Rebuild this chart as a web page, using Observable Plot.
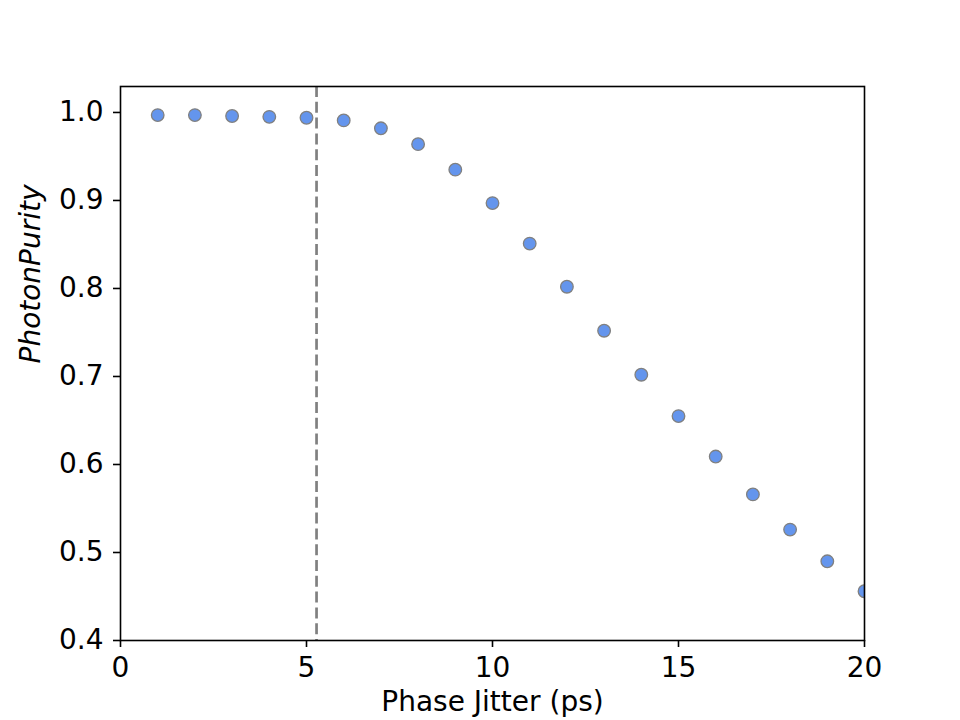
<!DOCTYPE html>
<html>
<head>
<meta charset="utf-8">
<script src="https://cdn.jsdelivr.net/npm/d3@7"></script>
<script src="https://cdn.jsdelivr.net/npm/@observablehq/plot@0.6"></script>
<style>
  html, body { margin: 0; padding: 0; background: #fff; }
  #chart svg { display: block; }
</style>
</head>
<body>
<div id="chart"></div>
<script>
const jitter = [1, 2, 3, 4, 5, 6, 7, 8, 9, 10, 11, 12, 13, 14, 15, 16, 17, 18, 19, 20];
const purity = [0.997, 0.997, 0.996, 0.995, 0.994, 0.991, 0.982, 0.964, 0.935, 0.897,
                0.851, 0.802, 0.752, 0.702, 0.655, 0.609, 0.566, 0.526, 0.490, 0.456];
const cutoff = [5.27];
const xTicks = [0, 5, 10, 15, 20];
const yTicks = [0.4, 0.5, 0.6, 0.7, 0.8, 0.9, 1.0];
const xLabel = "Phase Jitter (ps)";
const yLabel = "PhotonPurity";

const data = jitter.map((x, i) => ({x, y: purity[i]}));

const chart = Plot.plot({
  width: 960,
  height: 720,
  marginLeft: 120,
  marginRight: 96,
  marginTop: 86,
  marginBottom: 80,
  style: {fontFamily: "DejaVu Sans", fontSize: "28px", color: "#000", background: "#fff"},
  x: {domain: [0, 20]},
  y: {domain: [0.4, 1.0295]},
  marks: [
    Plot.ruleX(cutoff, {stroke: "#808080", strokeWidth: 2.7, strokeDasharray: "11,4.8"}),
    Plot.dot(data, {x: "x", y: "y", r: 6.3, fill: "#6495ED", stroke: "#808080", strokeWidth: 1.3, clip: true}),
    Plot.frame({stroke: "#000", strokeWidth: 1.6}),
    Plot.axisX(xTicks, {tickSize: 7, tickPadding: 10, strokeWidth: 1.6, fontSize: 28, label: null}),
    Plot.axisY(yTicks, {tickSize: 7, tickPadding: 10, strokeWidth: 1.6, fontSize: 28, tickFormat: d3.format(".1f"), label: null}),
    Plot.text([xLabel], {frameAnchor: "bottom", dy: 50.6, lineAnchor: "top", fontSize: 28, fill: "#000"}),
    Plot.text([yLabel], {frameAnchor: "left", dx: -89, rotate: -90, fontSize: 28, fontStyle: "italic", fill: "#000"})
  ]
});
document.getElementById("chart").appendChild(chart);
</script>
</body>
</html>
